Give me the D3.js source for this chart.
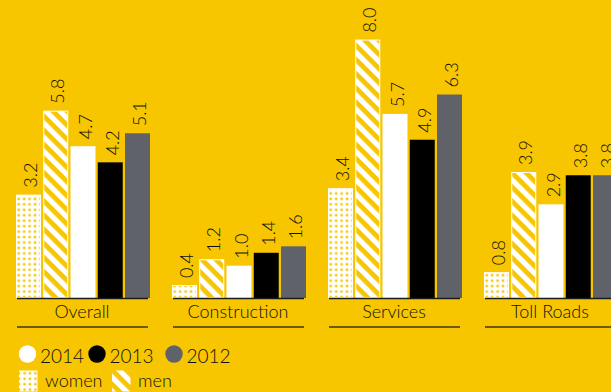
<!DOCTYPE html>
<html>
<head>
<meta charset="utf-8">
<script src="https://cdn.jsdelivr.net/npm/d3@7"></script>
<style>
  html, body { margin: 0; padding: 0; background: #F7C600; overflow: hidden; }
  svg { display: block; }
  text { font-family: Lato, "Open Sans", sans-serif; font-weight: 300; fill: #111; }
</style>
</head>
<body>
<script>
// Sectors shown along the x axis
const categories = ["Overall", "Construction", "Services", "Toll Roads"];
// Bar series within each sector
const series = ["women", "men", "2014", "2013", "2012"];
// Values per series, in sector order
const women = [3.2, 0.4, 3.4, 0.8];
const men = [5.8, 1.2, 8.0, 3.9];
const y2014 = [4.7, 1.0, 5.7, 2.9];
const y2013 = [4.2, 1.4, 4.9, 3.8];
const y2012 = [5.1, 1.6, 6.3, 3.8];
const legendYears = ["2014", "2013", "2012"];
const legendGenders = ["women", "men"];

const values = { women, men, "2014": y2014, "2013": y2013, "2012": y2012 };
const fmt = d3.format(".1f");

const W = 611, H = 392;
const YELLOW = "#F7C600";
const fills = { women: "url(#dots)", men: "url(#stripes)", "2014": "#ffffff", "2013": "#000000", "2012": "#60626A" };

const svg = d3.select("body").append("svg").attr("width", W).attr("height", H);
svg.append("rect").attr("width", W).attr("height", H).attr("fill", YELLOW);

const defs = svg.append("defs");
// dotted fill: white with small yellow squares
const dots = defs.append("pattern").attr("id", "dots")
  .attr("patternUnits", "userSpaceOnUse").attr("width", 5.45).attr("height", 5.45);
dots.append("rect").attr("width", 5.45).attr("height", 5.45).attr("fill", "#fff");
dots.append("rect").attr("x", 1.5).attr("y", 1.5).attr("width", 2.4).attr("height", 2.4).attr("fill", YELLOW);
// diagonal stripe fill, white and yellow, running top-left to bottom-right
const SP = 10;
const stripes = defs.append("pattern").attr("id", "stripes")
  .attr("patternUnits", "userSpaceOnUse").attr("width", SP).attr("height", SP)
  .attr("patternTransform", "rotate(-45)");
stripes.append("rect").attr("width", SP).attr("height", SP).attr("fill", YELLOW);
stripes.append("rect").attr("width", SP * 0.52).attr("height", SP).attr("fill", "#fff");

const x0 = d3.scaleBand().domain(categories).range([16, 16 + 156 * categories.length]).padding(0);
const x1 = d3.scaleBand().domain(series).range([0, 134]).paddingInner(0.083).paddingOuter(0);
const y = d3.scaleLinear().domain([0, 8]).range([298, 298 - 8 * 32.3]);

const groups = svg.append("g").selectAll("g").data(categories).join("g")
  .attr("transform", d => `translate(${x0(d)},0)`);

groups.each(function(cat, ci) {
  const g = d3.select(this);
  series.forEach(s => {
    const v = values[s][ci];
    const patterned = s === "women" || s === "men";
    g.append("rect")
      .attr("x", x1(s) + (patterned ? 0.5 : 0))
      .attr("y", y(v) + (patterned ? 0.5 : 0))
      .attr("width", x1.bandwidth() - (patterned ? 1 : 0))
      .attr("height", y(0) - y(v) - (patterned ? 1 : 0))
      .attr("fill", fills[s])
      .attr("stroke", patterned ? "#fff" : "none")
      .attr("stroke-width", patterned ? 1 : 0);
    // rotated value label above the bar
    const cx = x1(s) + x1.bandwidth() / 2 + 1.5;
    g.append("text")
      .attr("transform", `translate(${cx},${y(v) - 7}) rotate(-90)`)
      .attr("dominant-baseline", "central")
      .attr("font-size", 18)
      .text(fmt(v));
  });
  // baseline and underline of each sector
  g.append("line").attr("x1", 1).attr("x2", 132).attr("y1", y(0) + 0.5).attr("y2", y(0) + 0.5)
    .attr("stroke", "#1a1a1a").attr("stroke-width", 1.6);
  g.append("text").attr("x", 66).attr("y", 318).attr("text-anchor", "middle")
    .attr("font-size", 18).text(cat);
  g.append("line").attr("x1", 1).attr("x2", 132).attr("y1", 327).attr("y2", 327)
    .attr("stroke", "#6e5800").attr("stroke-width", 2);
});

// legend: years
const yearPos = [27.5, 97, 174];
const leg = svg.append("g");
legendYears.forEach((yr, i) => {
  leg.append("circle").attr("cx", yearPos[i]).attr("cy", 354).attr("r", 8.7).attr("fill", fills[yr]);
  leg.append("text").attr("x", yearPos[i] + 12.5).attr("y", 362.5).attr("font-size", 19).text(yr);
});
// legend: genders
const genderPos = [19, 112];
legendGenders.forEach((gname, i) => {
  leg.append("rect").attr("x", genderPos[i]).attr("y", 370.5).attr("width", 18.5).attr("height", 21)
    .attr("fill", fills[gname]);
  leg.append("text").attr("x", genderPos[i] + 26).attr("y", 387).attr("font-size", 18).text(gname);
});
</script>
</body>
</html>
